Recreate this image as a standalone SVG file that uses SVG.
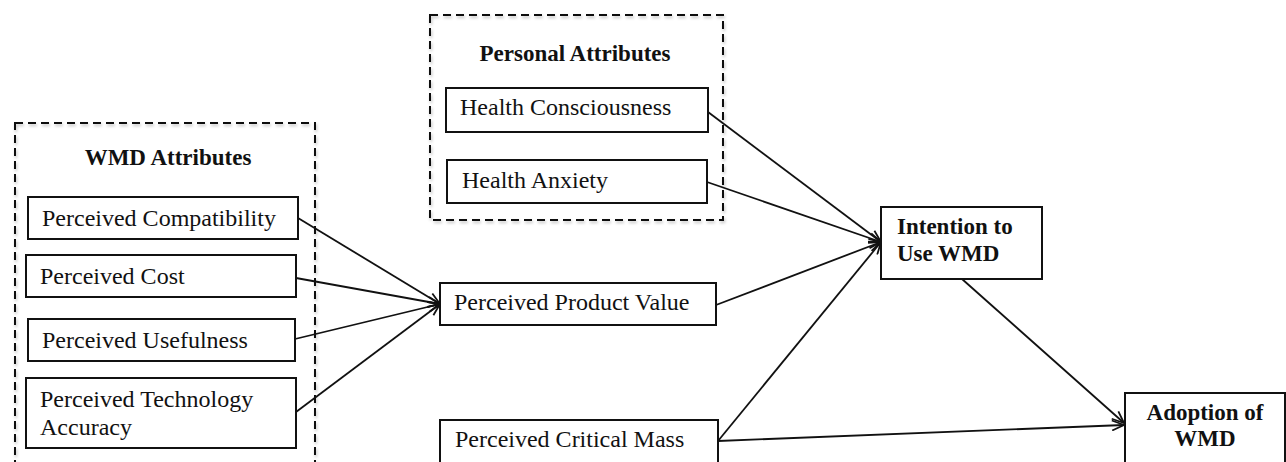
<svg xmlns="http://www.w3.org/2000/svg" width="1286" height="462" viewBox="0 0 1286 462">
  <style>
    .box { fill: #fff; stroke: #111; stroke-width: 2; }
    .group { fill: none; stroke: #111; stroke-width: 2; stroke-dasharray: 8 5; filter: url(#soft); }
    .lbl { font-family: "Liberation Serif", "Times New Roman", serif; font-size: 24px; fill: #111; }
    .ttl { font-family: "Liberation Serif", "Times New Roman", serif; font-size: 23px; font-weight: bold; fill: #111; }
    .mid { text-anchor: middle; }
    .edge { fill: none; stroke: #111; stroke-width: 1.8; marker-end: url(#arr); }
  </style>
  <defs>
    <filter id="soft" x="-5%" y="-5%" width="110%" height="110%">
      <feDropShadow dx="1" dy="2" stdDeviation="1.5" flood-color="#000" flood-opacity="0.25"/>
    </filter>
    <marker id="arr" viewBox="0 0 14 12" refX="13" refY="6" markerWidth="14" markerHeight="12" orient="auto" markerUnits="userSpaceOnUse">
      <path d="M1,1 L13,6 L1,11" fill="none" stroke="#111" stroke-width="1.8"/>
    </marker>
  </defs>
  <rect width="1286" height="462" fill="#fff"/>

  <!-- attribute groups -->
  <g id="wmd-attributes">
    <rect class="group" x="15" y="123" width="300" height="360"/>
    <text class="ttl mid" x="168" y="165">WMD Attributes</text>
  </g>
  <g id="personal-attributes">
    <rect class="group" x="430" y="15" width="293" height="205"/>
    <text class="ttl mid" x="575" y="61">Personal Attributes</text>
  </g>

  <!-- connectors -->
  <g id="connectors">
    <line class="edge" x1="298" y1="218" x2="440" y2="304"/>
    <line class="edge" x1="296" y1="278" x2="440" y2="304"/>
    <line class="edge" x1="295" y1="339" x2="440" y2="304"/>
    <line class="edge" x1="296" y1="412" x2="440" y2="304"/>
    <line class="edge" x1="708" y1="112" x2="881" y2="242"/>
    <line class="edge" x1="707" y1="182" x2="881" y2="242"/>
    <line class="edge" x1="716" y1="305" x2="881" y2="242"/>
    <line class="edge" x1="718" y1="441" x2="881" y2="242"/>
    <line class="edge" x1="962" y1="279" x2="1124" y2="423"/>
    <line class="edge" x1="718" y1="441" x2="1124" y2="425"/>
  </g>

  <!-- nodes -->
  <g id="perceived-compatibility">
    <rect class="box" x="28" y="197" width="270" height="42"/>
    <text class="lbl" x="42" y="226">Perceived Compatibility</text>
  </g>
  <g id="perceived-cost">
    <rect class="box" x="26" y="255" width="270" height="42"/>
    <text class="lbl" x="40" y="284">Perceived Cost</text>
  </g>
  <g id="perceived-usefulness">
    <rect class="box" x="28" y="319" width="267" height="42"/>
    <text class="lbl" x="42" y="348">Perceived Usefulness</text>
  </g>
  <g id="perceived-technology-accuracy">
    <rect class="box" x="26" y="378" width="270" height="70"/>
    <text class="lbl" x="40" y="407">Perceived Technology</text>
    <text class="lbl" x="40" y="435">Accuracy</text>
  </g>
  <g id="health-consciousness">
    <rect class="box" x="446" y="88" width="262" height="44"/>
    <text class="lbl" x="460" y="115">Health Consciousness</text>
  </g>
  <g id="health-anxiety">
    <rect class="box" x="447" y="160" width="260" height="43"/>
    <text class="lbl" x="462" y="188">Health Anxiety</text>
  </g>
  <g id="perceived-product-value">
    <rect class="box" x="440" y="283" width="276" height="42"/>
    <text class="lbl" x="454" y="310">Perceived Product Value</text>
  </g>
  <g id="perceived-critical-mass">
    <rect class="box" x="440" y="420" width="278" height="60"/>
    <text class="lbl" x="455" y="447">Perceived Critical Mass</text>
  </g>
  <g id="intention-to-use">
    <rect class="box" x="881" y="207" width="161" height="72"/>
    <text class="ttl" x="897" y="234">Intention to</text>
    <text class="ttl" x="897" y="261">Use WMD</text>
  </g>
  <g id="adoption">
    <rect class="box" x="1125" y="393" width="160" height="90"/>
    <text class="ttl mid" x="1205" y="420">Adoption of</text>
    <text class="ttl mid" x="1205" y="446">WMD</text>
  </g>
</svg>
